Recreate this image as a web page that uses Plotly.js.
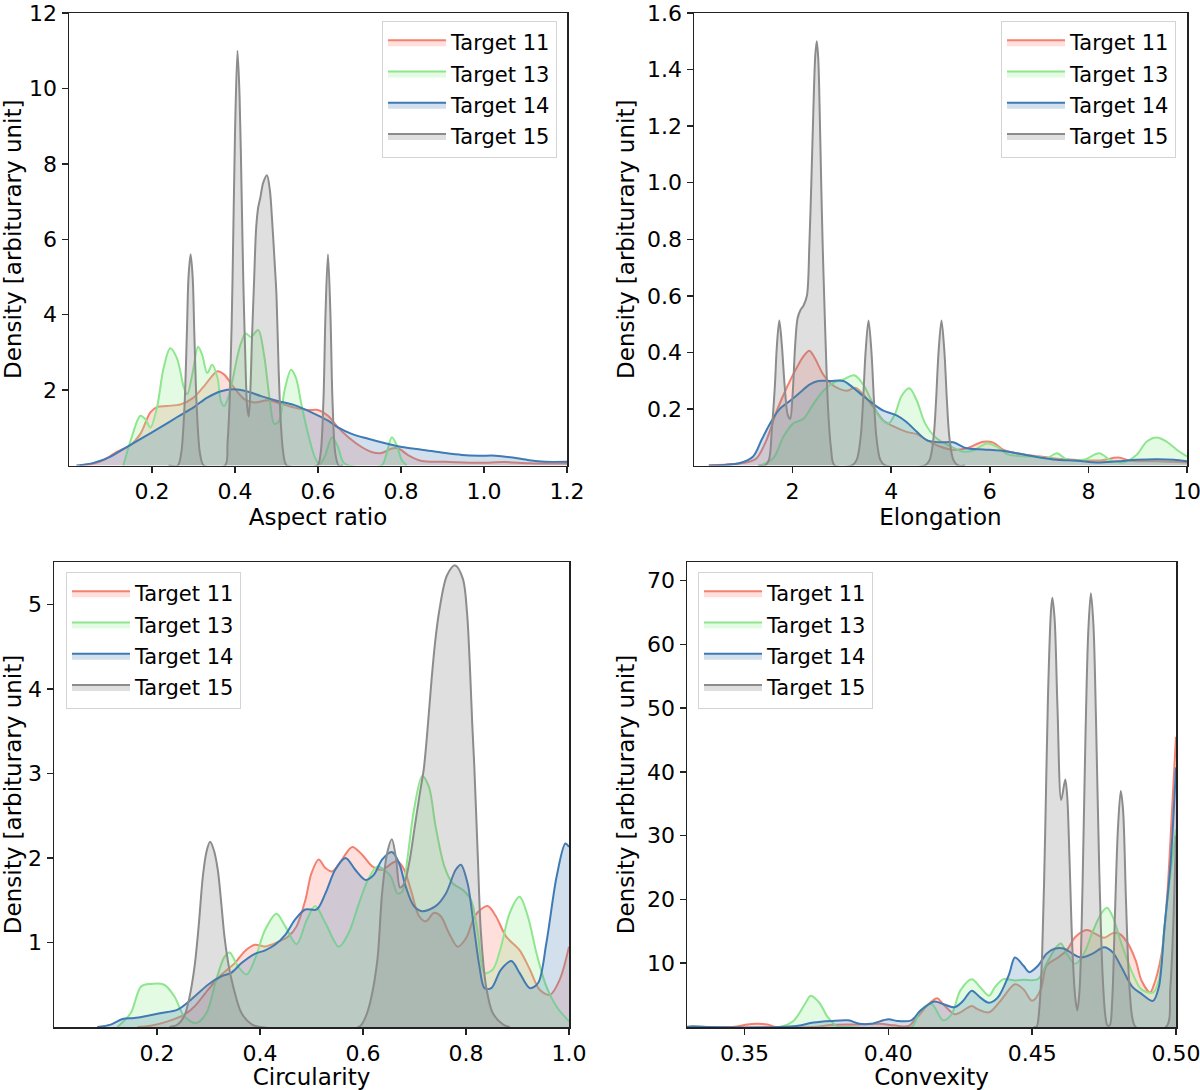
<!DOCTYPE html>
<html>
<head>
<meta charset="utf-8">
<script src="https://cdn.plot.ly/plotly-3.0.1.min.js"></script>
<style>
  html, body { margin: 0; padding: 0; background: #fff; }
  #chart { width: 1200px; height: 1090px; }
</style>
</head>
<body>
<div id="chart"></div>
<script>
// ---- Aspect ratio (top left) ----
const aspect11X = [0.026, 0.059, 0.083, 0.115, 0.147, 0.172, 0.196, 0.212, 0.236, 0.269, 0.30, 0.325, 0.358, 0.374, 0.398, 0.422, 0.446, 0.479, 0.511, 0.543, 0.576, 0.60, 0.624, 0.648, 0.673, 0.705, 0.729, 0.753, 0.778, 0.794, 0.818, 0.85, 0.907, 0.988, 1.05, 1.109, 1.2];
const aspect11Y = [0, 0.05, 0.14, 0.36, 0.53, 0.84, 1.41, 1.55, 1.58, 1.62, 1.8, 2.1, 2.5, 2.41, 2.06, 1.76, 1.67, 1.73, 1.64, 1.54, 1.47, 1.47, 1.32, 1.01, 0.75, 0.49, 0.36, 0.33, 0.45, 0.45, 0.27, 0.12, 0.1, 0.07, 0.09, 0.06, 0.05];
const aspect13X = [0.131, 0.151, 0.172, 0.184, 0.196, 0.212, 0.228, 0.244, 0.26, 0.277, 0.285, 0.297, 0.311, 0.321, 0.333, 0.345, 0.358, 0.366, 0.374, 0.382, 0.392, 0.402, 0.413, 0.426, 0.438, 0.456, 0.47, 0.483, 0.495, 0.507, 0.519, 0.535, 0.547, 0.56, 0.576, 0.592, 0.604, 0.616, 0.634, 0.648, 0.66, 0.673, 0.753, 0.765, 0.778, 0.79, 0.802, 0.814];
const aspect13Y = [0, 0.75, 1.32, 1.23, 1.01, 1.54, 2.59, 3.11, 2.85, 2.06, 1.89, 2.41, 3.15, 2.93, 2.45, 2.67, 2.32, 1.71, 1.58, 1.75, 2.15, 2.7, 3.2, 3.5, 3.41, 3.59, 2.93, 1.8, 1.1, 1.19, 1.97, 2.54, 2.32, 1.62, 0.84, 0.23, 0.03, 0.23, 0.75, 0.49, 0.1, 0, 0, 0.31, 0.75, 0.53, 0.14, 0];
const aspect14X = [0.018, 0.059, 0.099, 0.139, 0.18, 0.22, 0.26, 0.301, 0.333, 0.366, 0.398, 0.43, 0.463, 0.503, 0.543, 0.584, 0.624, 0.648, 0.681, 0.721, 0.762, 0.802, 0.85, 0.907, 0.947, 0.988, 1.028, 1.069, 1.109, 1.147, 1.2];
const aspect14Y = [0, 0.07, 0.23, 0.49, 0.75, 1.01, 1.28, 1.55, 1.8, 1.97, 2.02, 1.96, 1.84, 1.71, 1.6, 1.41, 1.19, 1.01, 0.84, 0.71, 0.59, 0.49, 0.42, 0.33, 0.28, 0.26, 0.26, 0.21, 0.14, 0.1, 0.1];
const aspect15X = [0.24, 0.262, 0.27, 0.278, 0.284, 0.288, 0.293, 0.298, 0.302, 0.308, 0.316, 0.325, 0.376, 0.382, 0.388, 0.394, 0.40, 0.406, 0.411, 0.416, 0.42, 0.425, 0.429, 0.433, 0.437, 0.441, 0.446, 0.451, 0.456, 0.461, 0.468, 0.477, 0.484, 0.49, 0.496, 0.50, 0.505, 0.51, 0.515, 0.52, 0.525, 0.598, 0.606, 0.613, 0.618, 0.624, 0.63, 0.635, 0.642, 0.65, 0.66];
const aspect15Y = [0, 0, 0.3, 1.5, 3.5, 5.0, 5.6, 5.0, 3.5, 1.5, 0.3, 0, 0, 0.6, 2.0, 4.9, 8.8, 11.0, 9.8, 7.2, 4.9, 2.8, 1.6, 1.3, 2.0, 3.4, 4.9, 6.3, 6.85, 7.1, 7.5, 7.7, 7.3, 6.4, 5.3, 4.5, 2.6, 1.2, 0.45, 0.1, 0, 0, 0.3, 1.7, 4.0, 5.6, 4.0, 1.7, 0.3, 0, 0];

// ---- Elongation (top right) ----
const elong11X = [0.3, 0.8, 1.07, 1.27, 1.47, 1.68, 1.88, 2.08, 2.22, 2.34, 2.45, 2.62, 2.79, 2.96, 3.1, 3.27, 3.43, 3.64, 3.84, 4.04, 4.31, 4.52, 4.72, 4.99, 5.26, 5.53, 5.87, 6.07, 6.28, 6.61, 7.02, 7.36, 7.7, 8.24, 8.61, 8.85, 9.39, 10];
const elong11Y = [0, 0.005, 0.011, 0.026, 0.09, 0.194, 0.275, 0.345, 0.386, 0.406, 0.38, 0.322, 0.287, 0.27, 0.264, 0.275, 0.252, 0.206, 0.159, 0.139, 0.119, 0.111, 0.09, 0.067, 0.055, 0.061, 0.084, 0.081, 0.055, 0.041, 0.032, 0.024, 0.02, 0.018, 0.028, 0.017, 0.015, 0.011];
const elong13X = [1.34, 1.61, 1.81, 2.01, 2.22, 2.42, 2.62, 2.83, 3.03, 3.25, 3.43, 3.6, 3.77, 3.94, 4.08, 4.21, 4.37, 4.52, 4.69, 4.92, 5.19, 5.46, 5.67, 5.94, 6.14, 6.34, 6.68, 6.95, 7.16, 7.36, 7.56, 7.9, 8.22, 8.44, 8.71, 8.98, 9.18, 9.39, 9.59, 9.8, 10];
const elong13Y = [0, 0.026, 0.101, 0.148, 0.165, 0.217, 0.264, 0.293, 0.304, 0.319, 0.287, 0.229, 0.171, 0.148, 0.183, 0.246, 0.273, 0.229, 0.148, 0.096, 0.069, 0.049, 0.053, 0.078, 0.067, 0.041, 0.032, 0.032, 0.026, 0.043, 0.022, 0.02, 0.043, 0.02, 0.011, 0.038, 0.084, 0.099, 0.084, 0.055, 0.032];
const elong14X = [0.3, 0.93, 1.2, 1.37, 1.54, 1.74, 1.95, 2.15, 2.35, 2.52, 2.76, 3.03, 3.23, 3.43, 3.64, 3.84, 4.11, 4.31, 4.52, 4.72, 4.99, 5.26, 5.53, 5.87, 6.21, 6.55, 6.95, 7.36, 7.77, 8.17, 8.58, 8.98, 9.39, 9.73, 10];
const elong14Y = [0, 0.009, 0.032, 0.09, 0.148, 0.2, 0.229, 0.258, 0.287, 0.299, 0.299, 0.299, 0.275, 0.246, 0.217, 0.194, 0.177, 0.154, 0.119, 0.09, 0.082, 0.082, 0.061, 0.057, 0.053, 0.043, 0.03, 0.02, 0.017, 0.011, 0.015, 0.02, 0.022, 0.02, 0.015];
const elong15X = [1.3, 1.44, 1.52, 1.58, 1.64, 1.68, 1.73, 1.78, 1.84, 1.9, 1.95, 2.0, 2.05, 2.1, 2.16, 2.22, 2.29, 2.34, 2.38, 2.42, 2.46, 2.49, 2.52, 2.55, 2.58, 2.61, 2.64, 2.68, 2.72, 2.78, 2.85, 3.2, 3.3, 3.38, 3.43, 3.48, 3.54, 3.6, 3.65, 3.7, 3.78, 3.88, 4.68, 4.78, 4.86, 4.91, 4.96, 5.02, 5.08, 5.13, 5.18, 5.26, 5.36, 5.5];
const elong15Y = [0, 0, 0.02, 0.13, 0.28, 0.42, 0.513, 0.43, 0.28, 0.18, 0.165, 0.25, 0.42, 0.52, 0.55, 0.565, 0.6, 0.78, 1.0, 1.25, 1.45, 1.5, 1.44, 1.25, 1.0, 0.78, 0.6, 0.38, 0.2, 0.06, 0, 0, 0.02, 0.1, 0.23, 0.4, 0.513, 0.4, 0.23, 0.1, 0.02, 0, 0, 0.02, 0.1, 0.23, 0.4, 0.513, 0.4, 0.23, 0.1, 0.02, 0, 0];

// ---- Circularity (bottom left) ----
const circ11X = [0.162, 0.188, 0.221, 0.253, 0.273, 0.299, 0.325, 0.351, 0.37, 0.39, 0.41, 0.436, 0.455, 0.471, 0.488, 0.5, 0.514, 0.527, 0.54, 0.559, 0.579, 0.598, 0.618, 0.637, 0.657, 0.667, 0.68, 0.693, 0.709, 0.722, 0.738, 0.751, 0.767, 0.784, 0.8, 0.819, 0.842, 0.858, 0.878, 0.904, 0.924, 0.943, 0.963, 0.982, 1.0];
const circ11Y = [0, 0.016, 0.067, 0.146, 0.244, 0.44, 0.618, 0.756, 0.894, 0.972, 0.953, 1.01, 1.07, 1.19, 1.5, 1.82, 1.98, 1.88, 1.84, 1.98, 2.13, 2.04, 1.9, 1.86, 1.94, 1.96, 1.86, 1.62, 1.31, 1.25, 1.35, 1.31, 1.11, 0.95, 1.05, 1.33, 1.43, 1.31, 1.07, 0.91, 0.68, 0.44, 0.38, 0.56, 0.95];
const circ13X = [0.123, 0.149, 0.169, 0.188, 0.214, 0.234, 0.253, 0.276, 0.296, 0.315, 0.331, 0.341, 0.357, 0.374, 0.39, 0.41, 0.432, 0.449, 0.471, 0.491, 0.507, 0.527, 0.553, 0.572, 0.592, 0.611, 0.628, 0.641, 0.654, 0.667, 0.676, 0.686, 0.699, 0.715, 0.728, 0.741, 0.758, 0.774, 0.794, 0.81, 0.823, 0.836, 0.852, 0.868, 0.885, 0.904, 0.92, 0.937, 0.956, 0.976, 1.0];
const circ13Y = [0, 0.165, 0.48, 0.51, 0.5, 0.36, 0.126, 0.047, 0.165, 0.56, 0.83, 0.88, 0.72, 0.62, 0.8, 1.15, 1.34, 1.19, 0.98, 1.27, 1.43, 1.23, 0.95, 1.11, 1.46, 1.76, 1.9, 1.86, 1.78, 1.58, 1.6, 1.98, 2.57, 2.97, 2.84, 2.37, 1.9, 1.7, 1.62, 1.5, 1.11, 0.64, 0.68, 0.95, 1.35, 1.54, 1.31, 0.87, 0.48, 0.24, 0.067];
const circ14X = [0.084, 0.11, 0.133, 0.156, 0.182, 0.208, 0.24, 0.266, 0.299, 0.325, 0.344, 0.364, 0.39, 0.41, 0.429, 0.449, 0.468, 0.488, 0.51, 0.527, 0.546, 0.566, 0.585, 0.605, 0.621, 0.637, 0.656, 0.67, 0.683, 0.699, 0.715, 0.741, 0.761, 0.78, 0.79, 0.803, 0.816, 0.826, 0.836, 0.849, 0.868, 0.888, 0.904, 0.924, 0.94, 0.956, 0.976, 0.993, 1.0];
const circ14Y = [0, 0.028, 0.094, 0.106, 0.134, 0.165, 0.205, 0.323, 0.5, 0.6, 0.64, 0.756, 0.866, 0.906, 0.972, 1.09, 1.27, 1.39, 1.39, 1.58, 1.86, 2.0, 1.86, 1.74, 1.8, 1.98, 2.07, 1.94, 1.66, 1.43, 1.37, 1.43, 1.58, 1.86, 1.92, 1.7, 1.15, 0.72, 0.46, 0.46, 0.68, 0.78, 0.64, 0.46, 0.52, 0.99, 1.78, 2.17, 2.13];
const circ15X = [0.224, 0.24, 0.253, 0.263, 0.273, 0.281, 0.289, 0.296, 0.303, 0.31, 0.318, 0.325, 0.331, 0.34, 0.348, 0.364, 0.384, 0.40, 0.592, 0.605, 0.615, 0.628, 0.637, 0.647, 0.656, 0.664, 0.672, 0.68, 0.69, 0.70, 0.71, 0.718, 0.725, 0.733, 0.74, 0.748, 0.763, 0.779, 0.794, 0.802, 0.808, 0.812, 0.816, 0.823, 0.829, 0.839, 0.852, 0.872, 0.885];
const circ15Y = [0, 0.03, 0.13, 0.35, 0.72, 1.2, 1.78, 2.07, 2.19, 2.1, 1.86, 1.45, 1.07, 0.7, 0.48, 0.165, 0.03, 0, 0, 0.12, 0.32, 0.8, 1.58, 2.06, 2.22, 2.0, 1.65, 1.7, 1.95, 2.35, 2.75, 3.05, 3.5, 4.1, 4.55, 4.92, 5.34, 5.46, 5.3, 4.9, 4.2, 3.6, 3.1, 2.0, 1.11, 0.48, 0.165, 0.03, 0];

// ---- Convexity (bottom right) ----
const conv11X = [0.33, 0.346, 0.351, 0.354, 0.358, 0.361, 0.374, 0.38, 0.388, 0.397, 0.402, 0.407, 0.41, 0.414, 0.417, 0.419, 0.423, 0.425, 0.429, 0.431, 0.435, 0.439, 0.444, 0.447, 0.45, 0.453, 0.455, 0.459, 0.462, 0.465, 0.469, 0.472, 0.475, 0.478, 0.48, 0.483, 0.486, 0.488, 0.491, 0.492, 0.495, 0.497, 0.4985, 0.5];
const conv11Y = [0, 0, 0.4, 0.5, 0.4, 0, 0, 0.3, 0.4, 0.5, 0.26, 0.15, 1.5, 3.6, 4.5, 3.6, 2.0, 2.3, 3.3, 2.8, 2.3, 4.1, 6.7, 5.9, 4.1, 5.9, 9.6, 10.9, 12.0, 14.1, 15.2, 14.6, 14.0, 14.7, 14.7, 13.3, 10.4, 7.3, 5.4, 6.2, 11.5, 21, 33, 45.5];
const conv13X = [0.33, 0.362, 0.367, 0.371, 0.373, 0.376, 0.379, 0.382, 0.386, 0.408, 0.411, 0.415, 0.419, 0.422, 0.425, 0.429, 0.432, 0.435, 0.437, 0.44, 0.444, 0.447, 0.452, 0.455, 0.458, 0.46, 0.462, 0.465, 0.468, 0.471, 0.474, 0.476, 0.478, 0.481, 0.485, 0.488, 0.492, 0.494, 0.496, 0.498, 0.5];
const conv13Y = [0, 0, 0.95, 3.6, 4.9, 3.8, 1.5, 0.15, 0, 0, 2.5, 3.6, 1.05, 2.0, 5.7, 7.5, 6.2, 4.9, 6.2, 7.5, 7.3, 7.4, 7.5, 9.9, 12.3, 13.1, 11.5, 9.9, 11.5, 14.9, 17.8, 18.7, 17.3, 13.1, 8.3, 5.9, 5.4, 7.3, 15.7, 23.6, 31];
const conv14X = [0.33, 0.332, 0.337, 0.362, 0.368, 0.374, 0.38, 0.386, 0.39, 0.394, 0.4, 0.403, 0.408, 0.411, 0.416, 0.419, 0.423, 0.426, 0.429, 0.432, 0.435, 0.438, 0.442, 0.444, 0.447, 0.449, 0.452, 0.455, 0.458, 0.461, 0.464, 0.467, 0.471, 0.475, 0.478, 0.481, 0.485, 0.488, 0.492, 0.494, 0.496, 0.498, 0.5];
const conv14Y = [0.05, 0.1, 0, 0, 0.15, 0.7, 0.95, 1.05, 0.5, 0.5, 1.2, 0.95, 1.05, 2.5, 4.0, 3.6, 3.1, 4.1, 5.7, 4.6, 3.8, 4.6, 8.3, 10.9, 9.6, 8.6, 9.6, 11.5, 12.3, 12.3, 11.5, 10.9, 11.5, 12.5, 11.7, 9.4, 6.2, 5.2, 4.1, 6.2, 15.7, 25, 40.7];
const conv15X = [0.4505, 0.4515, 0.4525, 0.4535, 0.4545, 0.4555, 0.4565, 0.457, 0.4578, 0.4588, 0.4601, 0.4615, 0.4622, 0.463, 0.464, 0.465, 0.4657, 0.4665, 0.4675, 0.4685, 0.4695, 0.4704, 0.4713, 0.4722, 0.4733, 0.4745, 0.4755, 0.4762, 0.477, 0.4778, 0.4788, 0.4798, 0.4808, 0.4816, 0.4826, 0.4836, 0.4848, 0.486, 0.4965, 0.498, 0.4992, 0.5];
const conv15Y = [0, 0, 3, 12, 30, 52, 65, 67.3, 64, 50, 35.6, 38.8, 36, 26, 12, 4.5, 2.6, 6, 22, 45, 62, 68, 63, 48, 25, 8, 1.5, 0.2, 0.3, 4, 18, 31, 37, 34, 20, 8, 1.5, 0, 0, 6, 18, 30];

// ---- tick labels ----
const aspectXTicks = [0.2, 0.4, 0.6, 0.8, 1.0, 1.2];
const aspectYTicks = [2, 4, 6, 8, 10, 12];
const elongXTicks = [2, 4, 6, 8, 10];
const elongYTicks = [0.2, 0.4, 0.6, 0.8, 1.0, 1.2, 1.4, 1.6];
const circXTicks = [0.2, 0.4, 0.6, 0.8, 1.0];
const circYTicks = [1, 2, 3, 4, 5];
const convXTicks = [0.35, 0.40, 0.45, 0.50];
const convYTicks = [10, 20, 30, 40, 50, 60, 70];

const targetNames = ["Target 11", "Target 13", "Target 14", "Target 15"];
const lineColors = ["#f4806f", "#8ee68e", "#3f7ab4", "#8c8c8c"];
const fillColors = [
  "rgba(250,128,114,0.25)",
  "rgba(144,238,144,0.25)",
  "rgba(70,130,180,0.25)",
  "rgba(128,128,128,0.25)",
];

const FONT = "DejaVu Sans";

const panels = [
  { xs: [aspect11X, aspect13X, aspect14X, aspect15X], ys: [aspect11Y, aspect13Y, aspect14Y, aspect15Y] },
  { xs: [elong11X, elong13X, elong14X, elong15X], ys: [elong11Y, elong13Y, elong14Y, elong15Y] },
  { xs: [circ11X, circ13X, circ14X, circ15X], ys: [circ11Y, circ13Y, circ14Y, circ15Y] },
  { xs: [conv11X, conv13X, conv14X, conv15X], ys: [conv11Y, conv13Y, conv14Y, conv15Y] },
];

const data = [];
panels.forEach((p, pi) => {
  const suffix = pi === 0 ? "" : String(pi + 1);
  for (let i = 0; i < 4; i++) {
    data.push({
      x: p.xs[i],
      y: p.ys[i],
      type: "scatter",
      mode: "lines",
      name: targetNames[i],
      line: { color: lineColors[i], width: 2, shape: "spline", smoothing: 0.9 },
      fill: "tozeroy",
      fillcolor: fillColors[i],
      xaxis: "x" + suffix,
      yaxis: "y" + suffix,
      legend: "legend" + suffix,
      legendgroup: "p" + pi + "_" + i,
      hoverinfo: "skip",
    });
  }
});

function xAxis(domain, range, ticks, fmt, title, anchor) {
  return {
    domain: domain,
    range: range,
    anchor: anchor,
    tickvals: ticks,
    tickformat: fmt,
    ticks: "outside",
    ticklen: 6,
    tickwidth: 1.5,
    tickcolor: "#222",
    showline: true,
    mirror: true,
    linecolor: "#222",
    linewidth: 1.5,
    showgrid: false,
    zeroline: false,
    ticklabeloverflow: "allow",
    tickfont: { family: FONT, size: 22, color: "#000" },
    title: { text: title, font: { family: FONT, size: 23, color: "#000" }, standoff: 4 },
  };
}

function yAxis(domain, range, ticks, fmt, anchor) {
  const ax = xAxis(domain, range, ticks, fmt, "Density [arbiturary unit]", anchor);
  ax.title.standoff = 6;
  return ax;
}

function legendAt(x, y, xanchor) {
  return {
    x: x,
    y: y,
    xanchor: xanchor,
    yanchor: "top",
    font: { family: FONT, size: 21, color: "#000" },
    bgcolor: "rgba(255,255,255,0.8)",
    bordercolor: "#d4d4d4",
    borderwidth: 1,
    itemwidth: 58,
    tracegroupgap: 1,
  };
}

const topRow = [1 - 465.5 / 1090, 1 - 13 / 1090];
const bottomRow = [1 - 1027 / 1090, 1 - 562 / 1090];

const layout = {
  width: 1200,
  height: 1090,
  margin: { l: 0, r: 0, t: 0, b: 0 },
  paper_bgcolor: "#fff",
  plot_bgcolor: "#fff",
  showlegend: true,
  hovermode: false,
  font: { family: FONT, color: "#000" },

  xaxis: xAxis([69 / 1200, 567 / 1200], [0, 1.2], aspectXTicks, ".1f", "Aspect ratio", "y"),
  yaxis: yAxis(topRow, [0, 12], aspectYTicks, "d", "x"),
  xaxis2: xAxis([694 / 1200, 1187 / 1200], [0, 10], elongXTicks, "d", "Elongation", "y2"),
  yaxis2: yAxis(topRow, [0, 1.6], elongYTicks, ".1f", "x2"),
  xaxis3: xAxis([54 / 1200, 569 / 1200], [0, 1], circXTicks, ".1f", "Circularity", "y3"),
  yaxis3: yAxis(bottomRow, [0, 5.5], circYTicks, "d", "x3"),
  xaxis4: xAxis([687 / 1200, 1176 / 1200], [0.33, 0.5], convXTicks, ".2f", "Convexity", "y4"),
  yaxis4: yAxis(bottomRow, [0, 72.9], convYTicks, "d", "x4"),

  legend: legendAt(557 / 1200, 1 - 21 / 1090, "right"),
  legend2: legendAt(1176 / 1200, 1 - 21 / 1090, "right"),
  legend3: legendAt(66 / 1200, 1 - 572 / 1090, "left"),
  legend4: legendAt(698 / 1200, 1 - 572 / 1090, "left"),
};

Plotly.newPlot("chart", data, layout, { staticPlot: true, displayModeBar: false });
</script>
</body>
</html>
